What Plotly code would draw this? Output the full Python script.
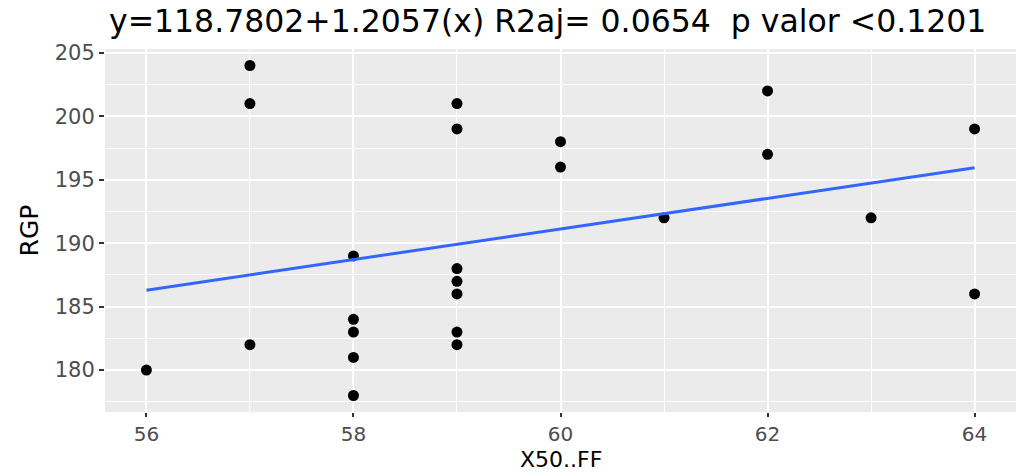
import plotly.graph_objects as go

# Data
x50_ff = [56, 57, 57, 57, 58, 58, 58, 58, 58, 59, 59, 59, 59, 59, 59, 59,
          60, 60, 61, 62, 62, 63, 64, 64]
rgp = [180, 204, 201, 182, 189, 184, 183, 181, 178, 201, 199, 188, 187, 186, 183, 182,
       198, 196, 192, 202, 197, 192, 199, 186]

intercept = 118.7802
slope = 1.2057
title_text = "y=118.7802+1.2057(x) R2aj= 0.0654  p valor <0.1201"
x_title = "X50..FF"
y_title = "RGP"

line_x = [min(x50_ff), max(x50_ff)]
line_y = [intercept + slope * v for v in line_x]

fig = go.Figure()
fig.add_trace(go.Scatter(x=x50_ff, y=rgp, mode="markers",
                         marker=dict(color="black", size=11), showlegend=False))
fig.add_trace(go.Scatter(x=line_x, y=line_y, mode="lines",
                         line=dict(color="#3366FF", width=3), showlegend=False))

font_family = "DejaVu Sans, sans-serif"

fig.update_layout(
    width=1016, height=474,
    margin=dict(l=105, r=0, t=49, b=62),
    paper_bgcolor="white",
    plot_bgcolor="#EBEBEB",
    font=dict(family=font_family, color="black"),
    title=dict(text=title_text, x=109 / 1016, xanchor="left", y=0.955, yanchor="middle",
               font=dict(size=31.5, color="black", family=font_family)),
    xaxis=dict(range=[55.6, 64.4], tickmode="linear", tick0=56, dtick=2,
               showgrid=True, gridcolor="white", gridwidth=2,
               minor=dict(tickmode="linear", tick0=57, dtick=2, showgrid=True,
                          gridcolor="white", gridwidth=1.2, ticks=""),
               zeroline=False, ticks="outside", ticklen=4, tickwidth=1.5, tickcolor="#333333",
               tickfont=dict(size=20, color="#4D4D4D", family=font_family),
               showline=False),
    yaxis=dict(range=[176.7, 205.3], tickmode="linear", tick0=180, dtick=5,
               showgrid=True, gridcolor="white", gridwidth=2,
               minor=dict(tickmode="linear", tick0=177.5, dtick=5, showgrid=True,
                          gridcolor="white", gridwidth=1.2, ticks=""),
               zeroline=False, ticks="outside", ticklen=5, tickwidth=1.5, tickcolor="#333333",
               tickfont=dict(size=21, color="#4D4D4D", family=font_family),
               title=dict(text=y_title, font=dict(size=25, color="black"), standoff=8),
               showline=False),
    annotations=[dict(text=x_title, xref="paper", yref="paper", x=0.5, y=-0.132,
                      xanchor="center", yanchor="middle", showarrow=False,
                      font=dict(size=22, color="black", family=font_family))],
)

fig.write_html("out.html")
